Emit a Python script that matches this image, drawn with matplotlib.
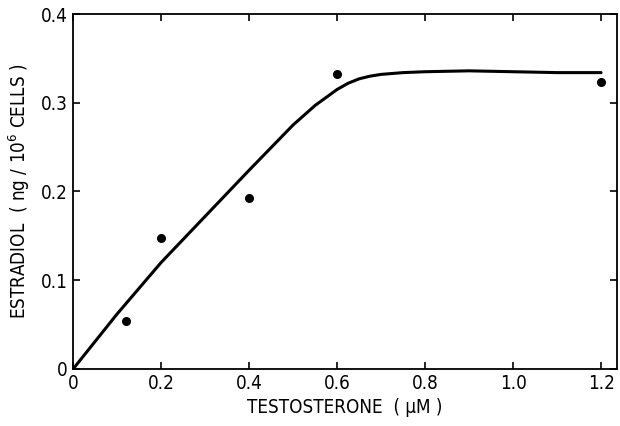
import matplotlib.pyplot as plt
import numpy as np

plt.rcParams['font.family'] = ['DejaVu Sans']
plt.rcParams['font.stretch'] = 'condensed'

# measured points
testo = [0.12, 0.2, 0.4, 0.6, 1.2]
estra = [0.054, 0.148, 0.193, 0.332, 0.323]

# fitted curve
curve_x = [0, 0.1, 0.2, 0.3, 0.4, 0.5, 0.55, 0.6, 0.625, 0.65, 0.675, 0.7, 0.75, 0.8,
           0.9, 1.0, 1.1, 1.2]
curve_y = [0, 0.062, 0.12, 0.172, 0.224, 0.275, 0.297, 0.315, 0.322, 0.327, 0.330,
           0.332, 0.334, 0.335, 0.336, 0.335, 0.334, 0.334]

xticks = [0, 0.2, 0.4, 0.6, 0.8, 1.0, 1.2]
xlabels = ['0', '0.2', '0.4', '0.6', '0.8', '1.0', '1.2']
yticks = [0, 0.1, 0.2, 0.3, 0.4]
ylabels = ['0', '0.1', '0.2', '0.3', '0.4']

fig = plt.figure(figsize=(6.2, 4.26), dpi=100)
ax = fig.add_axes([0.118, 0.134, 0.877, 0.833])

ax.plot(curve_x, curve_y, color='black', lw=2.2, solid_capstyle='round',
        solid_joinstyle='round')
ax.plot(testo, estra, 'o', color='black', markersize=5.5)

ax.set_xlim(0, 1.236)
ax.set_ylim(0, 0.4)
ax.set_xticks(xticks)
ax.set_xticklabels(xlabels)
ax.set_yticks(yticks)
ax.set_yticklabels(ylabels)
ax.tick_params(direction='in', top=True, right=True, length=5, width=1.2,
               labelsize=13.5, pad=4)

for s in ax.spines.values():
    s.set_linewidth(1.3)

ax.set_xlabel('TESTOSTERONE  ( \u03bcM )', fontsize=13.5, labelpad=3)
ax.set_ylabel(r'ESTRADIOL  ( ng / 10$^6$ CELLS )', fontsize=13.5, labelpad=6)

plt.savefig('out.png', dpi=100)
